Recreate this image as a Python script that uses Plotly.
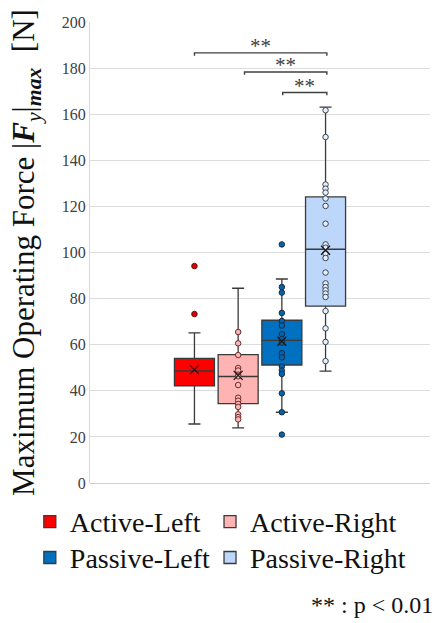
import plotly.graph_objects as go

# ---------------- data ----------------
categories = ["Active-Left", "Active-Right", "Passive-Left", "Passive-Right"]
q1 = [42.2, 34.4, 51.2, 76.7]
median = [48.6, 46.2, 61.9, 101.4]
q3 = [54.1, 55.7, 70.6, 124.1]
lower_whisker = [25.6, 23.9, 30.7, 48.5]
upper_whisker = [65.1, 84.5, 88.5, 163.1]
mean = [49.2, 46.7, 61.5, 101.0]

points_active_left = [94.1, 73.3]
points_active_right = [65.5, 60.6, 55.5, 49.9, 48.8, 47.0, 46.3, 42.5, 37.0,
                       35.7, 34.3, 33.0, 29.8, 28.6, 27.6]
points_passive_left = [103.5, 85.0, 82.6, 73.8, 70.3, 68.3, 64.6, 62.5, 60.9,
                       56.3, 54.5, 50.6, 48.8, 47.3, 38.9, 30.7, 21.0]
points_passive_right = [161.7, 150.1, 129.5, 127.7, 126.0, 123.4, 120.2, 112.5,
                        103.5, 102.1, 99.5, 97.6, 91.3, 86.6, 85.0, 83.6, 82.2,
                        80.7, 74.6, 67.1, 61.2, 52.9]
points = [points_active_left, points_active_right, points_passive_left, points_passive_right]

# significance brackets: (left category index, right category index, height in N)
brackets = [(0.0, 3.03, 186.6), (1.145, 3.03, 178.3), (2.02, 3.03, 169.4)]
bracket_label = "**"

y_ticks = [0, 20, 40, 60, 80, 100, 120, 140, 160, 180, 200]

# ---------------- style ----------------
fill_colors = ["#FF0000", "#FFB3B3", "#0070C0", "#BDD7FB"]
point_fill = ["#E00000", "#FFB3B3", "#0065B0", "#E6F0FF"]
point_line = ["#5a1010", "#6a3030", "#1a2a40", "#3a4450"]
legend_ids = ["legend", "legend2", "legend3", "legend4"]
legend_pos = [(-0.177, -0.030), (0.353, -0.030), (-0.177, -0.108), (0.353, -0.108)]
edge = "#3a3a3a"
serif = "Liberation Serif"

fig = go.Figure()

for i, cat in enumerate(categories):
    fig.add_trace(go.Box(
        x=[cat], q1=[q1[i]], median=[median[i]], q3=[q3[i]],
        lowerfence=[lower_whisker[i]], upperfence=[upper_whisker[i]],
        name=cat, fillcolor=fill_colors[i],
        line=dict(color=edge, width=1.3),
        width=0.916, whiskerwidth=0.3, boxpoints=False,
        showlegend=True, legend=legend_ids[i], hoverinfo="skip",
    ))

for i, cat in enumerate(categories):
    fig.add_trace(go.Scatter(
        x=[cat] * len(points[i]), y=points[i], mode="markers",
        marker=dict(size=5.5, color=point_fill[i], line=dict(color=point_line[i], width=1)),
        showlegend=False, hoverinfo="skip",
    ))
    fig.add_trace(go.Scatter(
        x=[cat], y=[mean[i]], mode="markers",
        marker=dict(symbol="x-thin-open", size=9, color="#1a1a1a",
                    line=dict(color="#1a1a1a", width=1.3)),
        showlegend=False, hoverinfo="skip",
    ))

shapes = []
annotations = []
for (a, b, h) in brackets:
    shapes.append(dict(type="path", xref="x", yref="y",
                       path=f"M {a},{h-1.2} L {a},{h} L {b},{h} L {b},{h-1.2}",
                       line=dict(color="#404040", width=1.4)))
    annotations.append(dict(x=(a + b) / 2, y=h + 3.0, xref="x", yref="y",
                            text=bracket_label, showarrow=False,
                            font=dict(family=serif, size=21, color="#404040"),
                            xanchor="center", yanchor="middle"))

annotations.append(dict(x=1.015, y=-0.265, xref="paper", yref="paper",
                        text="** : p < 0.01", showarrow=False,
                        font=dict(family=serif, size=24, color="#111111"),
                        xanchor="right", yanchor="middle"))

legend_font = dict(family=serif, size=28, color="#111111")
legends = {}
for lid, (lx, ly) in zip(legend_ids, legend_pos):
    legends[lid] = dict(orientation="v", x=lx, y=ly, xanchor="left", yanchor="top",
                        font=legend_font, itemwidth=30, bgcolor="rgba(0,0,0,0)")

fig.update_layout(
    width=436, height=623,
    margin=dict(l=90, r=6, t=22, b=140),
    paper_bgcolor="white", plot_bgcolor="white",
    boxmode="overlay",
    shapes=shapes, annotations=annotations,
    **legends,
)
fig.update_xaxes(type="category", categoryorder="array", categoryarray=categories,
                 range=[-2.39, 5.39], showticklabels=False, showgrid=False,
                 zeroline=False, showline=False, ticks="")
fig.update_yaxes(range=[0, 200], tickvals=y_ticks, showgrid=True, gridcolor="#dcdcdc",
                 gridwidth=1, zeroline=True, zerolinecolor="#d0d0d0", zerolinewidth=1,
                 showline=True, linecolor="#d9d9d9", linewidth=1, ticks="",
                 tickfont=dict(family=serif, size=16, color="#404040"),
                 title=dict(text="Maximum Operating Force |<b><i>F</i></b><sub><i>y</i></sub>|<sub><b><i>max</i></b></sub>  [N]",
                            font=dict(family=serif, size=31, color="#111111"),
                            standoff=17))

fig.write_html("out.html")
